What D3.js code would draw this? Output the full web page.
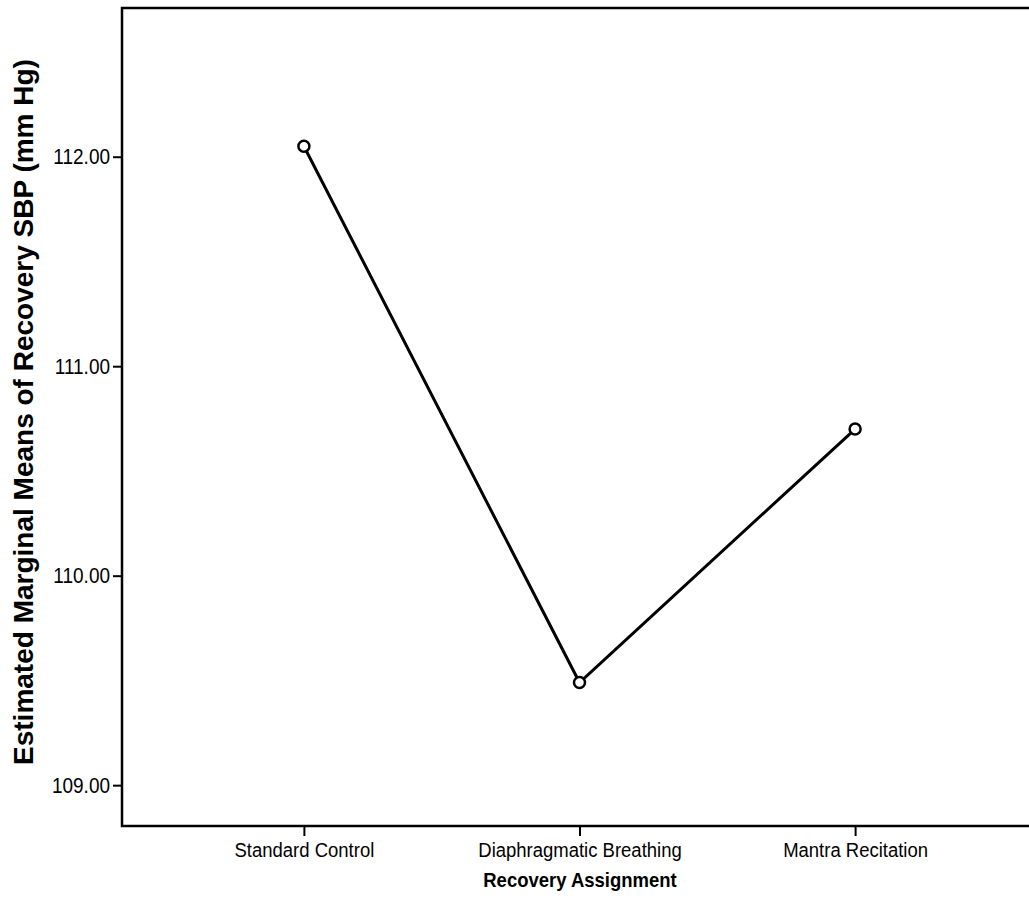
<!DOCTYPE html>
<html lang="en">
  <head>
    <meta charset="utf-8">
    <title>Recovery SBP</title>
    <style>
      body { margin: 0; background: #fff; }
      svg { display: block; font-family: "Liberation Sans", Arial, sans-serif; }
    </style>
  </head>
  <body>
    <svg class="chart"></svg>

    <script src="https://d3js.org/d3.v7.min.js"></script>
    <script type="text/javascript">
      var categories = ["Standard Control", "Diaphragmatic Breathing", "Mantra Recitation"];
      var means = [112.05, 109.49, 110.70];
      var yTicks = [109, 110, 111, 112];

      var w = 1029;
      var h = 911;
      var m = { left: 122, top: 8, right: 1037, bottom: 826 };

      var svg = d3.select('.chart')
                  .attr('width', w)
                  .attr('height', h);

      var x = d3.scalePoint()
                .domain(categories)
                .range([m.left, m.right])
                .padding(0.66);

      var y = d3.scaleLinear()
                .domain([108.805, 112.71])
                .range([m.bottom, m.top]);

      // frame
      svg.append('rect')
         .attr('x', m.left)
         .attr('y', m.top)
         .attr('width', m.right - m.left)
         .attr('height', m.bottom - m.top)
         .attr('fill', 'none')
         .attr('stroke', '#000')
         .attr('stroke-width', 2.5);

      var yAxis = svg.append('g')
         .attr('transform', 'translate(' + m.left + ',0)')
         .call(d3.axisLeft(y).tickValues(yTicks).tickSize(9).tickPadding(3)
                 .tickFormat(d3.format('.2f')));
      yAxis.select('.domain').remove();
      yAxis.selectAll('line').attr('stroke-width', 2);
      yAxis.selectAll('text')
           .attr('font-size', 19)
           .attr('fill', '#000')
           .attr('transform', 'scale(1,1.16)');

      var xAxis = svg.append('g')
         .attr('transform', 'translate(0,' + m.bottom + ')')
         .call(d3.axisBottom(x).tickSize(10).tickPadding(6));
      xAxis.select('.domain').remove();
      xAxis.selectAll('line').attr('stroke-width', 2);
      xAxis.selectAll('text')
           .attr('font-size', 18.5)
           .attr('fill', '#000')
           .attr('transform', 'scale(1,1.06)');

      var pts = categories.map(function(c, i) { return { c: c, v: means[i] }; });

      svg.append('path')
         .datum(pts)
         .attr('fill', 'none')
         .attr('stroke', '#000')
         .attr('stroke-width', 3)
         .attr('d', d3.line()
                      .x(function(d) { return x(d.c); })
                      .y(function(d) { return y(d.v); }));

      svg.selectAll('circle')
         .data(pts)
         .enter()
         .append('circle')
         .attr('cx', function(d) { return x(d.c); })
         .attr('cy', function(d) { return y(d.v); })
         .attr('r', 5.5)
         .attr('fill', '#fff')
         .attr('stroke', '#000')
         .attr('stroke-width', 2.5);

      svg.append('text')
         .attr('transform', 'translate(580,887) scale(1,1.13)')
         .attr('text-anchor', 'middle')
         .attr('font-size', 18.5)
         .attr('font-weight', 'bold')
         .text('Recovery Assignment');

      svg.append('text')
         .attr('transform', 'translate(33,412) rotate(-90)')
         .attr('text-anchor', 'middle')
         .attr('font-size', 28)
         .attr('font-weight', 'bold')
         .text('Estimated Marginal Means of Recovery SBP (mm Hg)');
    </script>
  </body>
</html>
